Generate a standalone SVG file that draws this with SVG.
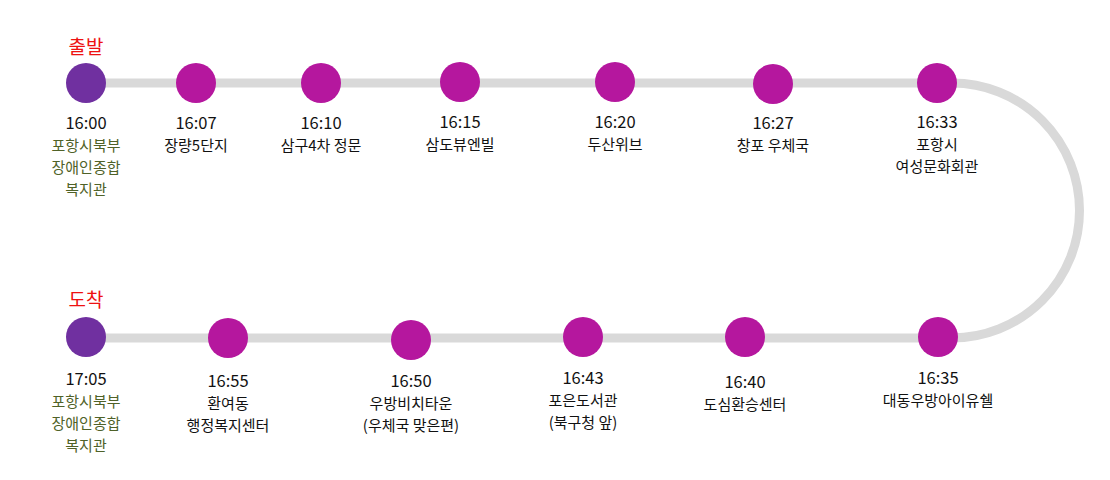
<svg xmlns="http://www.w3.org/2000/svg" width="1110" height="480" viewBox="0 0 1110 480">
<style>
.bg{fill:#ffffff}
.track{fill:none;stroke:#d9d9d9;stroke-width:9}
.end{fill:#7030a0}
.stop{fill:#b5179e}
text{font-family:"Noto Sans CJK KR","Noto Sans",sans-serif;text-anchor:middle;fill:#111111}
.t{font-size:16.5px}
.n{font-size:15px}
.g{fill:#4f6228}
.r{fill:#ee1111;font-size:19px}
</style>
<rect class="bg" x="0" y="0" width="1110" height="480"/>
<g id="connectors">
<path class="track" d="M86 83 H952 A127.5 127.5 0 0 1 952 338 H86"/>
</g>
<g id="start">
<text class="r" x="86" y="54">출발</text>
<circle class="end" cx="86" cy="83" r="20"/>
<text class="t" x="86" y="129">16:00</text>
<text class="n g" x="86" y="151">포항시북부</text>
<text class="n g" x="86" y="173">장애인종합</text>
<text class="n g" x="86" y="195">복지관</text>
</g>
<g id="s1607">
<circle class="stop" cx="196" cy="83" r="20"/>
<text class="t" x="196" y="129">16:07</text>
<text class="n" x="196" y="151">장량5단지</text>
</g>
<g id="s1610">
<circle class="stop" cx="321" cy="83" r="20"/>
<text class="t" x="321" y="129">16:10</text>
<text class="n" x="321" y="151">삼구4차 정문</text>
</g>
<g id="s1615">
<circle class="stop" cx="460" cy="82" r="20"/>
<text class="t" x="460" y="128">16:15</text>
<text class="n" x="460" y="150">삼도뷰엔빌</text>
</g>
<g id="s1620">
<circle class="stop" cx="615" cy="82" r="20"/>
<text class="t" x="615" y="128">16:20</text>
<text class="n" x="615" y="150">두산위브</text>
</g>
<g id="s1627">
<circle class="stop" cx="773" cy="84" r="20"/>
<text class="t" x="773" y="129">16:27</text>
<text class="n" x="773" y="151">창포 우체국</text>
</g>
<g id="s1633">
<circle class="stop" cx="937" cy="83" r="20"/>
<text class="t" x="937" y="128">16:33</text>
<text class="n" x="937" y="150">포항시</text>
<text class="n" x="937" y="172">여성문화회관</text>
</g>
<g id="s1635">
<circle class="stop" cx="938" cy="337" r="20"/>
<text class="t" x="938" y="384">16:35</text>
<text class="n" x="938" y="406">대동우방아이유쉘</text>
</g>
<g id="s1640">
<circle class="stop" cx="745" cy="337" r="20"/>
<text class="t" x="745" y="388">16:40</text>
<text class="n" x="745" y="410">도심환승센터</text>
</g>
<g id="s1643">
<circle class="stop" cx="583" cy="337" r="20"/>
<text class="t" x="583" y="384">16:43</text>
<text class="n" x="583" y="406">포은도서관</text>
<text class="n" x="583" y="428">(북구청 앞)</text>
</g>
<g id="s1650">
<circle class="stop" cx="411" cy="340" r="20"/>
<text class="t" x="411" y="387">16:50</text>
<text class="n" x="411" y="409">우방비치타운</text>
<text class="n" x="411" y="431">(우체국 맞은편)</text>
</g>
<g id="s1655">
<circle class="stop" cx="228" cy="338" r="20"/>
<text class="t" x="228" y="387">16:55</text>
<text class="n" x="228" y="409">환여동</text>
<text class="n" x="228" y="431">행정복지센터</text>
</g>
<g id="finish">
<text class="r" x="86" y="307">도착</text>
<circle class="end" cx="86" cy="337" r="20"/>
<text class="t" x="86" y="385">17:05</text>
<text class="n g" x="86" y="407">포항시북부</text>
<text class="n g" x="86" y="429">장애인종합</text>
<text class="n g" x="86" y="451">복지관</text>
</g>
</svg>
